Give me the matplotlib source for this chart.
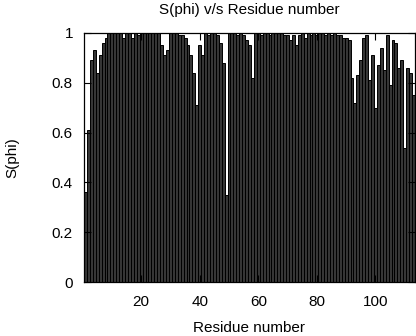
import numpy as np
import matplotlib
matplotlib.use('Agg')
import matplotlib.pyplot as plt

plt.rcParams['font.family'] = ['Liberation Sans', 'DejaVu Sans']

### data (residues 1..113)
residues = list(range(1, 114))
s_phi = [
    0.36, 0.61, 0.89, 0.93, 0.84, 0.91, 0.96, 0.98, 1.00, 1.00,   # 1-10
    1.00, 1.00, 1.00, 0.98, 1.00, 1.00, 0.98, 1.00, 0.99, 1.00,   # 11-20
    1.00, 1.00, 1.00, 1.00, 1.00, 1.00, 0.95, 0.91, 0.93, 1.00,   # 21-30
    1.00, 1.00, 0.99, 0.99, 0.98, 0.95, 0.91, 0.84, 0.71, 0.95,   # 31-40
    0.91, 1.00, 0.99, 1.00, 1.00, 0.99, 0.96, 0.88, 0.35, 1.00,   # 41-50
    1.00, 1.00, 0.99, 1.00, 0.99, 0.97, 0.95, 0.82, 1.00, 1.00,   # 51-60
    0.99, 1.00, 1.00, 0.99, 1.00, 1.00, 1.00, 1.00, 0.99, 0.99,   # 61-70
    0.97, 0.99, 0.95, 0.99, 1.00, 0.98, 1.00, 0.99, 1.00, 0.99,   # 71-80
    1.00, 1.00, 0.99, 1.00, 0.99, 1.00, 0.99, 0.99, 0.98, 0.98,   # 81-90
    0.97, 0.82, 0.72, 0.83, 0.89, 0.98, 0.99, 0.81, 0.91, 0.70,   # 91-100
    0.87, 0.94, 0.85, 0.99, 0.79, 0.97, 0.96, 0.86, 0.89, 0.54,   # 101-110
    0.86, 0.84, 0.75,                                             # 111-113
]
x_ticks = [20, 40, 60, 80, 100]
y_ticks = [0, 0.2, 0.4, 0.6, 0.8, 1]

fig = plt.figure(figsize=(4.16, 3.36), dpi=100)
ax = fig.add_axes([84 / 416, 1 - 282 / 336, 331 / 416, 249 / 336])

ax.bar(residues, s_phi, width=1.0, color='#363636', edgecolor='black', linewidth=0.7)

ax.set_xlim(0.5, 113.5)
ax.set_ylim(0, 1)
ax.set_xticks(x_ticks)
ax.set_yticks(y_ticks)
ax.set_yticklabels(['0', '0.2', '0.4', '0.6', '0.8', '1'])
ax.tick_params(direction='in', top=True, right=True, length=5, width=0.8, labelsize=11)
ax.tick_params(axis='y', pad=8)
ax.tick_params(axis='x', pad=9)
for s in ax.spines.values():
    s.set_linewidth(0.9)

ax.set_title('S(phi) v/s Residue number', fontsize=11, pad=14)
ax.set_xlabel('Residue number', fontsize=11, labelpad=9)
ax.set_ylabel('S(phi)', fontsize=11, labelpad=23)

fig.savefig('out.png', dpi=100)
